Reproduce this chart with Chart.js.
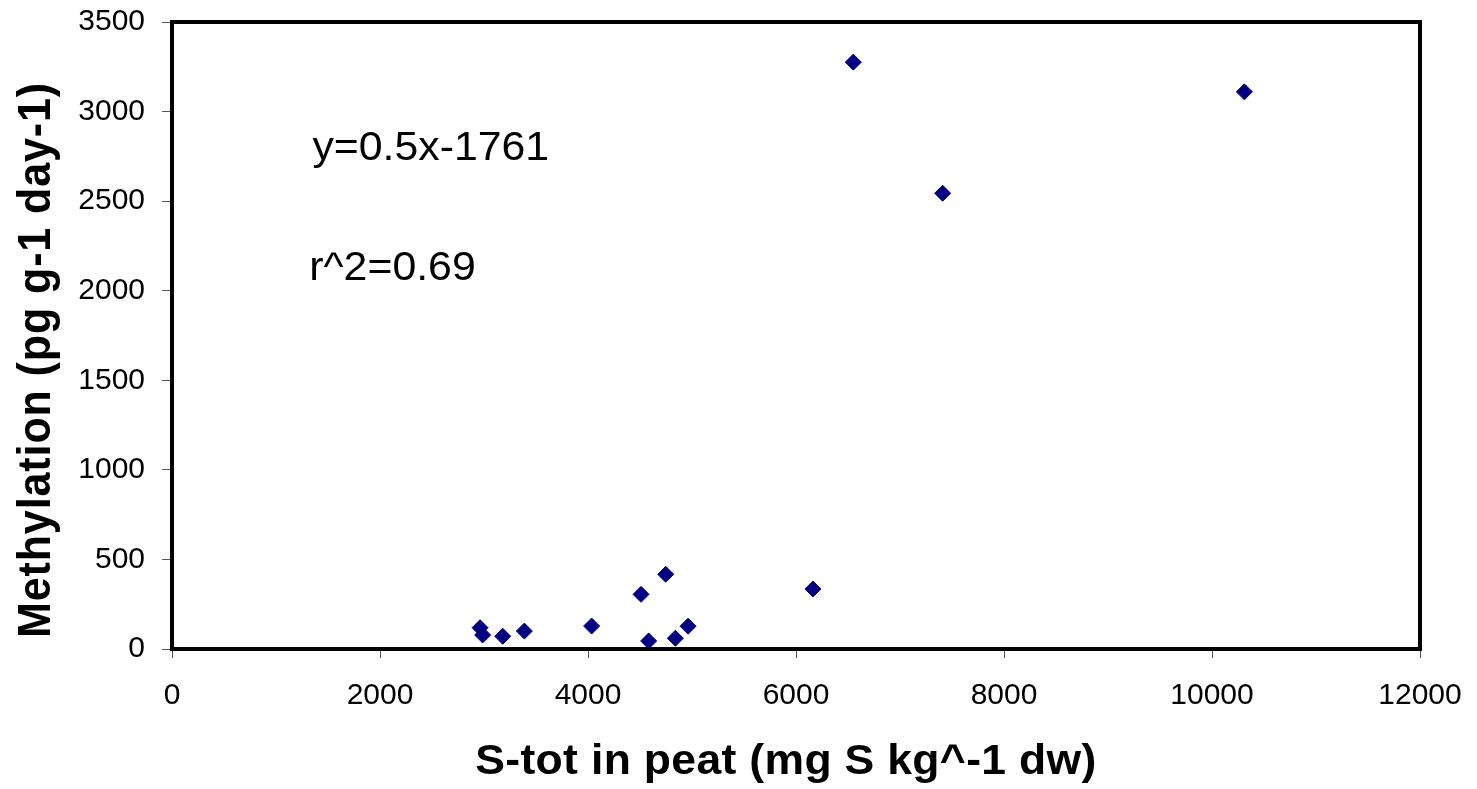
<!DOCTYPE html>
<html>
<head>
<meta charset="utf-8">
<title>Methylation vs S-tot</title>
<script src="https://cdn.jsdelivr.net/npm/chart.js@4/dist/chart.umd.min.js"></script>
<style>
  html, body { margin: 0; padding: 0; background: #fff; }
  #wrap { width: 1477px; height: 789px; }
</style>
</head>
<body>
<div id="wrap"><canvas id="myChart" width="1477" height="789"></canvas></div>
<script>

const sTot = [2962, 2987, 3180, 3388, 4035, 4510, 4583, 4747, 4840, 4962, 6163, 6551, 7410, 10311];
const methylation = [119, 78, 71, 100, 128, 305, 45, 417, 60, 127, 335, 3276, 2544, 3110];

const xTitle = 'S-tot in peat (mg S kg^-1 dw)';
const yTitle = 'Methylation (pg g-1 day-1)';
const equationText = 'y=0.5x-1761';
const r2Text = 'r^2=0.69';

const points = sTot.map((x, i) => ({ x: x, y: methylation[i] }));

const FONT = '"Liberation Sans", Arial, sans-serif';

// text a bit wider than the plain font, like the old office export
function putText(ctx, text, x, y, font, opts) {
  opts = opts || {};
  ctx.save();
  ctx.translate(x, y);
  ctx.scale(opts.sx || 1, 1);
  if (opts.rotate) ctx.rotate(opts.rotate);
  ctx.font = font;
  ctx.letterSpacing = (opts.spacing || 0) + 'px';
  ctx.fillStyle = '#000';
  ctx.textAlign = opts.align || 'left';
  ctx.textBaseline = 'alphabetic';
  ctx.fillText(text, 0, 0);
  ctx.restore();
}

// box round the plot area, axis titles and the regression text
const frame = {
  id: 'frame',
  afterDraw(chart) {
    const ctx = chart.ctx;
    const a = chart.chartArea;
    const xs = chart.scales.x, ys = chart.scales.y;
    ctx.save();
    ctx.strokeStyle = '#000';
    ctx.lineWidth = 4;
    ctx.strokeRect(a.left, a.top, a.right - a.left, a.bottom - a.top);
    ctx.restore();

    putText(ctx, equationText, xs.getPixelForValue(1350), ys.getPixelForValue(2730), '40px ' + FONT, { sx: 1.07 });
    putText(ctx, r2Text, xs.getPixelForValue(1320), ys.getPixelForValue(2060), '40px ' + FONT, { sx: 1.07 });

    putText(ctx, xTitle, 786, 774, 'bold 42px ' + FONT, { sx: 1.06, align: 'center', spacing: 0.3 });
    putText(ctx, yTitle, 50, 360, 'bold 43px ' + FONT, { sx: 1.07, align: 'center', rotate: -Math.PI / 2, spacing: 0.9 });
  }
};

const config = {
  type: 'scatter',
  data: {
    datasets: [{
      label: 'Methylation',
      data: points,
      pointStyle: 'rectRot',
      pointRadius: 8,
      pointHoverRadius: 8,
      backgroundColor: '#000080',
      borderColor: '#000080',
      borderWidth: 1
    }]
  },
  options: {
    responsive: false,
    animation: false,
    layout: { padding: { top: 22, right: 57, left: 0, bottom: 0 } },
    plugins: {
      legend: { display: false },
      tooltip: { enabled: false }
    },
    scales: {
      x: {
        type: 'linear',
        min: 0,
        max: 12000,
        afterFit(scale) {
          scale.height = 140;
          scale.paddingLeft = 0;
          scale.paddingRight = 0;
        },
        border: { display: false },
        grid: { drawOnChartArea: false, drawTicks: true, tickLength: 9, color: '#555', lineWidth: 1 },
        ticks: { stepSize: 2000, color: '#000', padding: 20, font: { family: FONT, size: 30 }, callback: v => String(v) }
      },
      y: {
        type: 'linear',
        min: 0,
        max: 3500,
        afterFit(scale) {
          scale.width = 172;
          scale.paddingTop = 0;
          scale.paddingBottom = 0;
        },
        border: { display: false },
        grid: { drawOnChartArea: false, drawTicks: true, tickLength: 10, color: '#555', lineWidth: 1 },
        ticks: { stepSize: 500, color: '#000', padding: 17, font: { family: FONT, size: 30 }, callback: v => String(v) }
      }
    }
  },
  plugins: [frame]
};

myChart = new Chart(document.getElementById('myChart'), config);
</script>
</body>
</html>
